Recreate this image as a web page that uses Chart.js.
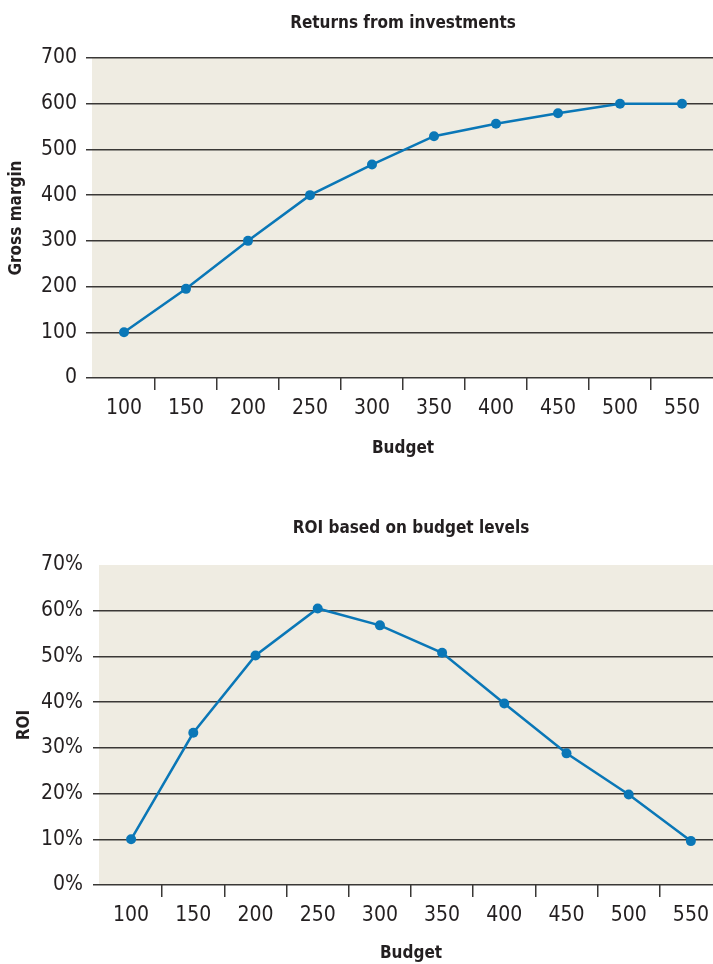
<!DOCTYPE html>
<html>
<head>
<meta charset="utf-8">
<script src="https://cdn.jsdelivr.net/npm/chart.js@4.4.1/dist/chart.umd.min.js"></script>
<style>
  html, body { margin: 0; padding: 0; background: #fff; }
  body { width: 713px; height: 964px; overflow: hidden; position: relative; }
  .box { position: absolute; left: 0; }
</style>
</head>
<body>
<div class="box" style="top:0"><canvas id="chartReturns" width="713" height="470"></canvas></div>
<div class="box" style="top:480px"><canvas id="chartRoi" width="722" height="484"></canvas></div>
<script>
const budgetLabels = ["100", "150", "200", "250", "300", "350", "400", "450", "500", "550"];
const grossMargin = [100, 195, 300, 400, 467, 529, 556, 579, 600, 600];
const roiPercent = [10, 33.3, 50.2, 60.5, 56.8, 50.8, 39.7, 28.8, 19.8, 9.6];
const grossTicks = { min: 0, max: 700, step: 100 };
const roiTicks = { min: 0, max: 70, step: 10 };

const FONT = "'Liberation Sans Narrow', 'DejaVu Sans Condensed', 'Roboto Condensed', 'Liberation Sans', sans-serif";
const TEXT = "#231f20";
const GRID = "#3a3836";
const BLUE = "#0a77b7";

Chart.defaults.devicePixelRatio = 1;
Chart.defaults.font.family = FONT;
Chart.defaults.color = TEXT;

// beige plot background
const beigeBg = {
  id: "beigeBg",
  beforeDraw(chart) {
    const { ctx, chartArea: a } = chart;
    ctx.save();
    ctx.fillStyle = "#efece2";
    ctx.fillRect(a.left - 1, a.top, a.right - a.left + 1, a.bottom - a.top);
    ctx.restore();
  }
};

function makeChart(canvasId, cfg) {
  const ctx = document.getElementById(canvasId).getContext("2d");
  return new Chart(ctx, {
    type: "line",
    data: {
      labels: budgetLabels,
      datasets: [{
        data: cfg.values,
        borderColor: BLUE,
        backgroundColor: BLUE,
        borderWidth: 2.5,
        pointRadius: 5,
        pointBorderWidth: 0,
        pointBackgroundColor: BLUE,
        tension: 0,
        clip: false
      }]
    },
    options: {
      responsive: false,
      animation: false,
      layout: { padding: 0, autoPadding: false },
      plugins: {
        legend: { display: false },
        tooltip: { enabled: false },
        title: {
          display: true,
          fullSize: false,
          text: cfg.title,
          color: TEXT,
          font: { family: FONT, size: 17, weight: "bold" },
          padding: cfg.titlePad
        }
      },
      scales: {
        x: {
          type: "category",
          offset: true,
          border: { display: false },
          grid: {
            offset: true,
            drawOnChartArea: false,
            drawTicks: true,
            tickLength: 12,
            lineWidth: 1.5,
            color: c => (c.index >= 1 && c.index <= 9) ? GRID : "rgba(0,0,0,0)"
          },
          ticks: { font: { size: 21 }, padding: 6, color: TEXT, maxRotation: 0, autoSkip: false },
          title: {
            display: true,
            text: "Budget",
            color: TEXT,
            font: { family: FONT, size: 17, weight: "bold" },
            padding: { top: 0, bottom: cfg.xTitleBottom }
          },
          afterFit: s => { s.height = cfg.xAxisHeight; }
        },
        y: {
          min: cfg.ticks.min,
          max: cfg.ticks.max,
          border: { display: false },
          grid: {
            drawTicks: true,
            tickLength: 7,
            lineWidth: 1.5,
            color: c => (c.tick && c.tick.value === cfg.hideTop) ? "rgba(0,0,0,0)" : GRID
          },
          ticks: {
            stepSize: cfg.ticks.step,
            font: { size: 21 },
            padding: cfg.yTickPad,
            color: TEXT,
            callback: cfg.fmt
          },
          title: {
            display: true,
            text: cfg.yTitle,
            color: TEXT,
            font: { family: FONT, size: 17, weight: "bold" },
            padding: { top: cfg.yTitleTop, bottom: 0 }
          },
          afterFit: s => { s.width = cfg.yAxisWidth; }
        }
      }
    },
    plugins: [beigeBg]
  });
}

makeChart("chartReturns", {
  values: grossMargin,
  title: "Returns from investments",
  titlePad: { top: 13, bottom: 24.6 },
  ticks: grossTicks,
  fmt: v => v,
  hideTop: null,
  yTitle: "Gross margin",
  yTitleTop: 6,
  yTickPad: 9,
  yAxisWidth: 93,
  xAxisHeight: 92,
  xTitleBottom: 11
});

makeChart("chartRoi", {
  values: roiPercent,
  title: "ROI based on budget levels",
  titlePad: { top: 38.8, bottom: 25.8 },
  ticks: roiTicks,
  fmt: v => v + "%",
  hideTop: 70,
  yTitle: "ROI",
  yTitleTop: 14,
  yTickPad: 10,
  yAxisWidth: 100,
  xAxisHeight: 79,
  xTitleBottom: 0
});
</script>
</body>
</html>
